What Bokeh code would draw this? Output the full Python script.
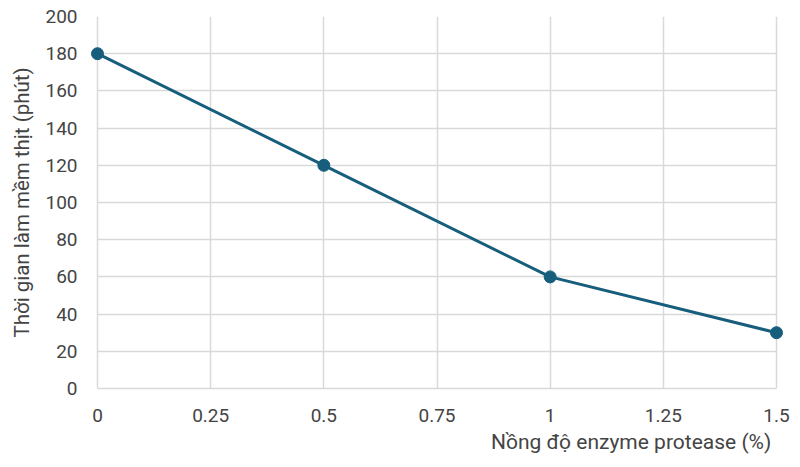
from bokeh.plotting import figure
from bokeh.models import FixedTicker, Title, Range1d
from bokeh.embed import file_html
from bokeh.resources import INLINE

concentration = [0, 0.5, 1, 1.5]
time_minutes = [180, 120, 60, 30]
x_ticks = [0, 0.25, 0.5, 0.75, 1, 1.25, 1.5]
x_tick_labels = {0: "0", 0.25: "0.25", 0.5: "0.5", 0.75: "0.75", 1: "1", 1.25: "1.25", 1.5: "1.5"}
y_ticks = list(range(0, 201, 20))
x_title = "Nồng độ enzyme protease  (%)"
y_title = "Thời gian làm mềm thịt (phút)"

FONT = "Roboto"
TXT = "#444444"
GRID = "#d9d9d9"
LINE = "#175e7c"

FRAME_W = 679
PAD_PX = 8
x_min, x_max = 0, 1.5
pad = PAD_PX * (x_max - x_min) / FRAME_W

p = figure(frame_width=FRAME_W + 2 * PAD_PX, frame_height=372, output_backend="svg",
           toolbar_location=None,
           x_range=Range1d(x_min - pad, x_max + pad), y_range=Range1d(0, 200),
           min_border_left=97 - PAD_PX, min_border_right=16 - PAD_PX,
           min_border_top=16, min_border_bottom=20)
p.outline_line_color = None

p.line(concentration, time_minutes, line_color=LINE, line_width=3)
p.scatter(concentration, time_minutes, size=12, fill_color=LINE, line_color=LINE)

p.xaxis.ticker = FixedTicker(ticks=x_ticks)
p.xaxis.major_label_overrides = x_tick_labels
p.xaxis.bounds = (x_min, x_max)
p.yaxis.ticker = FixedTicker(ticks=y_ticks)

for ax in (p.xaxis[0], p.yaxis[0]):
    ax.axis_line_color = GRID
    ax.axis_line_width = 1.5
    ax.major_tick_line_color = None
    ax.minor_tick_line_color = None
    ax.major_label_text_font = FONT
    ax.major_label_text_font_size = "19px"
    ax.major_label_text_color = TXT

# y axis line coincides with the x grid line at x=0
p.yaxis.axis_line_color = None
p.xaxis.major_label_standoff = 14
p.yaxis.major_label_standoff = 14 - PAD_PX
p.yaxis.axis_label = y_title
p.yaxis.axis_label_text_font = FONT
p.yaxis.axis_label_text_font_size = "20.5px"
p.yaxis.axis_label_text_font_style = "normal"
p.yaxis.axis_label_text_color = TXT
p.yaxis.axis_label_standoff = 8

p.add_layout(Title(text=x_title, align="right", text_font=FONT, text_font_size="21px",
                   text_font_style="normal", text_color=TXT, standoff=6, offset=PAD_PX), "below")

p.xgrid.grid_line_color = GRID
p.ygrid.grid_line_color = GRID
p.xgrid.grid_line_width = 1.5
p.ygrid.grid_line_width = 1.5
p.ygrid.cross_bounds = (x_min, x_max)

open("out.html", "w").write(file_html(p, INLINE))
